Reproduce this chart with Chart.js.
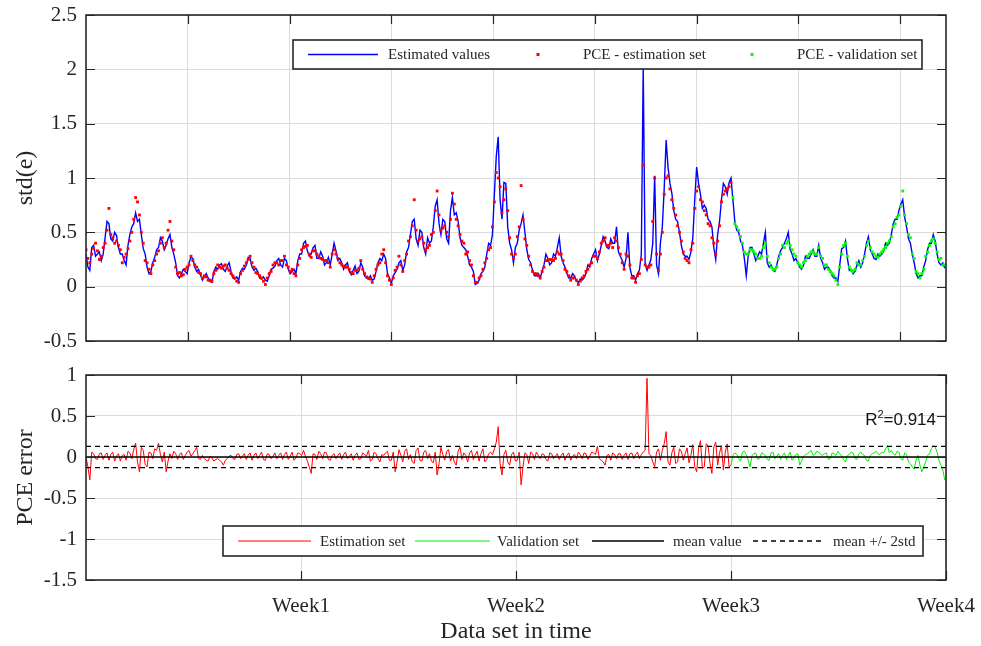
<!DOCTYPE html>
<html>
<head>
<meta charset="utf-8">
<script src="https://cdn.jsdelivr.net/npm/chart.js@4.4.1/dist/chart.umd.min.js"></script>
<style>
  body { margin: 0; background: #fff; }
  #wrap { position: relative; width: 981px; height: 646px; }
  canvas { position: absolute; left: 0; }
</style>
</head>
<body>
<div id="wrap">
  <canvas id="stdChart" width="981" height="360" style="top:0"></canvas>
  <canvas id="errChart" width="981" height="286" style="top:360px"></canvas>
</div>
<script>
Chart.defaults.font.family = "'Liberation Serif', 'Times New Roman', serif";
Chart.defaults.color = "#262626";

// samples are stored every 3 hours (plus half-step arrays), four weeks of 169 h each
const STEP = 3;
const HOURS = 676;
const VAL_START = 507;

// std(e): estimated values (blue line), hours 0..675
const stdEst = [
  0.30,0.15,0.38,0.30,0.24,0.45,0.58,0.42,0.47,0.30,
  0.24,0.38,0.55,0.68,0.62,0.35,0.18,0.14,0.27,0.36,
  0.42,0.38,0.48,0.30,0.10,0.12,0.14,0.22,0.26,0.14,
  0.11,0.09,0.08,0.04,0.18,0.20,0.16,0.19,0.14,0.07,
  0.06,0.17,0.20,0.26,0.15,0.14,0.07,0.06,0.10,0.17,
  0.24,0.20,0.26,0.16,0.14,0.12,0.30,
  0.40,0.33,0.30,0.38,0.26,0.28,0.22,0.20,0.40,0.24,
  0.22,0.20,0.14,0.15,0.12,0.22,0.10,0.07,0.06,0.14,
  0.26,0.30,0.12,0.03,0.13,0.22,0.15,0.32,0.48,0.62,
  0.38,0.50,0.30,0.40,0.55,0.80,0.48,0.60,0.40,0.82,
  0.68,0.45,0.36,0.28,0.18,0.02,0.06,0.14,0.30,0.38,
  0.85,1.38,0.62,0.95,0.40,0.22,
  0.40,0.58,0.50,0.25,0.15,0.10,0.08,0.20,0.26,0.22,
  0.28,0.45,0.22,0.12,0.08,0.10,0.04,0.06,0.12,0.18,
  0.30,0.24,0.38,0.42,0.35,0.40,0.55,0.28,0.18,0.50,
  0.10,0.06,0.15,2.02,0.15,0.25,1.02,0.12,0.55,1.35,
  0.95,0.70,0.60,0.38,0.28,0.25,0.45,1.10,0.85,0.75,
  0.62,0.55,0.25,0.60,0.95,0.85,1.00,
  0.60,0.50,0.38,0.10,0.36,0.30,0.28,0.30,0.50,0.18,
  0.15,0.20,0.33,0.40,0.50,0.30,0.26,0.18,0.20,0.26,
  0.30,0.28,0.38,0.22,0.18,0.15,0.08,0.05,0.35,0.42,
  0.15,0.12,0.20,0.18,0.30,0.46,0.30,0.25,0.28,0.33,
  0.38,0.48,0.62,0.70,0.80,0.55,0.40,0.22,0.08,0.10,
  0.24,0.40,0.48,0.30,0.20,0.17
];

// std(e): estimated values at the half-step hours 1.5..673.5
const stdEstMid = [
  0.18,0.36,0.28,0.32,0.30,0.60,0.44,0.50,0.36,0.30,
  0.20,0.48,0.58,0.60,0.48,0.30,0.12,0.22,0.34,0.45,
  0.34,0.44,0.36,0.22,0.08,0.16,0.12,0.27,0.18,0.16,
  0.06,0.12,0.05,0.14,0.16,0.21,0.14,0.22,0.08,0.09,
  0.14,0.16,0.27,0.18,0.17,0.08,0.09,0.05,0.16,0.19,
  0.26,0.18,0.24,0.12,0.16,0.24,
  0.30,
  0.42,0.28,0.36,0.26,0.32,0.20,0.27,0.30,0.33,0.26,
  0.16,0.22,0.11,0.19,0.14,0.18,0.08,0.10,0.07,0.22,
  0.24,0.26,0.08,0.10,0.16,0.24,0.20,0.36,0.60,0.44,
  0.52,0.36,0.45,0.42,0.74,0.58,0.62,0.44,0.70,0.66,
  0.60,0.38,0.34,0.20,0.14,0.03,0.12,0.18,0.40,0.48,
  1.20,0.80,0.96,0.55,0.34,0.36,
  0.52,0.66,0.34,0.22,0.10,0.12,0.14,0.30,0.20,0.30,
  0.36,0.28,0.18,0.08,0.12,0.05,0.07,0.08,0.20,0.26,
  0.34,0.30,0.46,0.36,0.44,0.40,0.32,0.24,0.26,0.18,
  0.10,0.12,0.30,0.22,0.20,0.40,0.20,0.40,0.90,1.10,
  0.86,0.62,0.50,0.30,0.28,0.32,0.80,0.95,0.72,0.72,
  0.60,0.36,0.48,0.80,0.92,0.96,
  0.80,0.52,0.42,0.26,0.28,0.36,0.24,0.32,0.40,0.22,
  0.20,0.14,0.28,0.36,0.44,0.34,0.24,0.22,0.16,0.28,
  0.26,0.34,0.28,0.26,0.16,0.18,0.10,0.08,0.20,0.36,
  0.26,0.16,0.14,0.24,0.22,0.40,0.34,0.26,0.30,0.30,
  0.40,0.40,0.58,0.62,0.76,0.64,0.44,0.30,0.12,0.10,
  0.18,0.34,0.40,0.42,0.22,0.22
];

// PCE on the estimation set, hours 0..507 (on the hour)
const pceEst = [
  0.34,0.22,0.35,0.33,0.28,0.40,0.72,0.45,0.42,0.34,
  0.27,0.35,0.50,0.82,0.66,0.40,0.22,0.12,0.24,0.33,
  0.45,0.40,0.60,0.34,0.12,0.10,0.16,0.20,0.24,0.18,
  0.12,0.10,0.06,0.05,0.15,0.18,0.19,0.17,0.12,0.08,
  0.04,0.15,0.22,0.28,0.18,0.12,0.08,0.02,0.12,0.20,
  0.22,0.24,0.28,0.18,0.16,0.10,0.26,
  0.36,0.38,0.27,0.33,0.28,0.25,0.24,0.18,0.34,0.26,
  0.20,0.18,0.16,0.12,0.15,0.24,0.12,0.08,0.04,0.16,
  0.22,0.34,0.10,0.02,0.15,0.28,0.14,0.30,0.46,0.80,
  0.42,0.46,0.34,0.38,0.50,0.88,0.52,0.56,0.46,0.86,
  0.62,0.48,0.40,0.32,0.20,0.04,0.08,0.16,0.26,0.36,
  0.78,1.00,0.68,0.90,0.45,0.26,
  0.46,0.93,0.44,0.28,0.14,0.12,0.08,0.18,0.24,0.25,
  0.26,0.30,0.24,0.14,0.06,0.08,0.02,0.08,0.14,0.20,
  0.28,0.26,0.40,0.45,0.38,0.36,0.42,0.30,0.16,0.28,
  0.08,0.04,0.12,1.12,0.18,0.20,1.00,0.15,0.50,1.00,
  0.90,0.72,0.56,0.42,0.26,0.22,0.40,0.88,0.80,0.70,
  0.58,0.45,0.30,0.56,0.85,0.90,0.96
];

// PCE on the estimation set, half-step hours 1.5..505.5
const pceEstMid = [
  0.26,0.30,0.40,0.25,0.36,0.52,0.48,0.40,0.38,0.22,
  0.30,0.42,0.62,0.78,0.50,0.24,0.16,0.20,0.30,0.40,
  0.36,0.52,0.42,0.18,0.13,0.11,0.18,0.28,0.20,0.13,
  0.08,0.09,0.06,0.12,0.20,0.17,0.20,0.15,0.10,0.05,
  0.12,0.19,0.25,0.22,0.13,0.10,0.05,0.08,0.14,0.22,
  0.20,0.24,0.20,0.14,0.12,0.20,
  0.34,
  0.37,0.30,0.33,0.30,0.26,0.24,0.22,0.30,0.30,0.22,
  0.19,0.18,0.13,0.15,0.17,0.16,0.09,0.07,0.10,0.20,
  0.30,0.22,0.06,0.08,0.18,0.20,0.24,0.42,0.56,0.52,
  0.44,0.40,0.36,0.48,0.70,0.66,0.54,0.50,0.62,0.76,
  0.56,0.42,0.30,0.24,0.10,0.04,0.10,0.22,0.34,0.55,
  1.05,0.92,0.80,0.70,0.30,0.30,
  0.55,0.62,0.38,0.20,0.12,0.10,0.14,0.24,0.25,0.24,
  0.32,0.30,0.16,0.10,0.08,0.06,0.05,0.10,0.16,0.22,
  0.28,0.32,0.42,0.38,0.40,0.45,0.36,0.22,0.30,0.20,
  0.08,0.10,0.25,0.20,0.18,0.60,0.30,0.30,0.85,1.02,
  0.80,0.66,0.50,0.32,0.24,0.34,0.72,0.92,0.78,0.66,
  0.56,0.40,0.42,0.78,0.88,0.92
];

// PCE on the validation set, hours 510..675 (on the hour)
const pceVal = [
  0.58,0.52,0.40,0.30,0.34,0.32,0.26,0.28,0.40,0.22,
  0.16,0.18,0.30,0.36,0.42,0.34,0.28,0.20,0.22,0.28,
  0.32,0.30,0.36,0.26,0.20,0.14,0.10,0.02,0.30,0.40,
  0.18,0.14,0.22,0.20,0.28,0.42,0.32,0.28,0.30,0.34,
  0.40,0.46,0.58,0.66,0.88,0.58,0.45,0.26,0.12,0.12,
  0.28,0.38,0.44,0.32,0.26,0.20
];

// PCE on the validation set, half-step hours 508.5..673.5
const pceValMid = [
  0.82,0.55,0.46,0.32,0.30,0.34,0.30,0.26,0.36,0.28,
  0.18,0.16,0.26,0.38,0.40,0.38,0.30,0.22,0.18,0.24,
  0.30,0.32,0.30,0.28,0.20,0.16,0.12,0.06,0.18,0.38,
  0.28,0.15,0.16,0.20,0.24,0.38,0.36,0.30,0.27,0.32,
  0.36,0.42,0.55,0.64,0.74,0.66,0.48,0.30,0.14,0.08,
  0.16,0.32,0.42,0.40,0.25,0.20
];

// PCE error, estimation set, hours 0..507
const errEst = [
  0.00,-0.28,0.04,-0.03,0.05,0.02,-0.04,0.06,0.01,-0.05,
  0.03,0.07,-0.02,0.17,-0.18,0.08,-0.12,0.05,0.10,0.17,
  -0.06,-0.18,0.04,0.07,-0.03,0.05,0.02,0.08,0.04,0.12,
  -0.03,-0.02,-0.05,-0.01,-0.03,-0.04,-0.10,-0.02,0.02,-0.03,
  0.04,0.01,-0.03,0.05,0.02,-0.02,0.06,-0.04,0.03,0.01,
  -0.02,0.05,0.03,-0.03,0.06,-0.01,0.04,0.08,-0.05,-0.20,
  0.03,0.07,-0.02,0.05,-0.04,0.04,0.02,-0.03,0.06,0.01,
  -0.04,0.05,-0.02,0.03,0.08,-0.03,0.04,-0.06,0.02,0.07,
  -0.04,-0.18,0.09,-0.06,0.10,0.03,-0.08,0.11,-0.05,0.08,
  0.04,-0.07,-0.22,0.12,-0.04,0.09,0.02,-0.10,0.12,0.05,
  -0.06,0.08,0.03,-0.05,0.10,-0.03,0.06,0.10,0.37,-0.22,
  0.08,-0.10,0.06,-0.04,-0.34,0.05,-0.08,0.04,0.06,-0.02,
  0.03,-0.05,0.04,0.01,-0.03,0.05,0.02,-0.04,0.03,0.06,
  -0.02,0.04,0.01,0.05,0.13,-0.04,-0.10,0.03,0.05,-0.02,
  0.04,0.02,-0.03,0.05,0.03,-0.02,0.06,0.96,0.02,-0.12,
  0.10,0.08,0.31,-0.10,0.12,-0.06,0.07,0.04,-0.07,0.15,
  -0.18,0.20,-0.12,0.14,-0.20,0.18,0.05,-0.16,0.16,-0.10
];

// PCE error, estimation set, half-step hours 1.5..505.5
const errEstMid = [
  -0.12,0.06,-0.02,0.04,-0.03,0.05,0.03,-0.05,0.04,0.02,
  -0.04,0.05,0.09,-0.06,0.12,-0.09,0.06,-0.02,0.08,0.03,
  0.06,-0.05,-0.02,0.04,0.03,-0.03,0.06,0.01,0.08,-0.02,
  0.02,-0.04,0.01,-0.05,-0.02,-0.06,-0.04,0.01,-0.02,0.03,
  -0.02,0.04,0.02,-0.04,0.05,0.02,-0.03,0.04,-0.02,0.05,
  0.02,-0.03,0.06,0.01,-0.04,0.05,0.02,0.01,-0.12,0.04,
  -0.03,0.04,0.06,-0.03,0.02,-0.02,0.05,0.03,-0.02,0.04,
  0.02,-0.03,0.05,0.01,-0.05,0.06,-0.02,0.03,0.05,-0.04,
  0.06,-0.06,0.02,0.07,-0.03,-0.06,0.08,-0.04,0.06,-0.02,
  -0.05,0.06,-0.08,0.03,0.07,-0.05,-0.06,0.07,-0.03,0.02,
  0.05,-0.03,0.07,0.04,-0.06,0.04,0.03,0.18,-0.08,0.03,
  -0.06,0.03,-0.05,0.06,-0.12,0.03,0.06,-0.03,0.02,0.04,
  -0.03,0.05,-0.02,0.04,0.02,-0.04,0.05,0.01,-0.02,0.03,
  0.05,-0.03,0.06,0.03,-0.02,-0.06,0.02,-0.04,0.03,0.04,
  -0.03,0.05,0.04,-0.02,0.06,0.03,0.08,0.04,-0.06,0.06,
  -0.04,0.16,-0.06,0.05,-0.08,0.10,-0.04,0.11,0.02,-0.12,
  0.10,-0.14,0.16,-0.08,0.12,-0.10,0.14,0.06,-0.12
];

// PCE error, validation set, hours 507..675
const errVal = [
  -0.10,0.05,-0.02,0.06,0.03,-0.12,0.04,-0.03,0.05,0.02,
  -0.04,0.06,0.01,-0.03,0.05,0.02,-0.04,0.03,-0.10,0.01,
  0.04,0.08,0.03,0.06,0.02,0.05,-0.02,0.04,0.07,0.01,
  -0.06,0.03,0.05,-0.03,0.06,0.02,-0.05,0.04,0.07,0.03,
  0.05,0.14,0.08,0.02,0.06,-0.04,0.03,-0.08,-0.15,0.02,
  -0.18,-0.06,0.04,0.14,0.06,-0.10,-0.28
];

// PCE error, validation set, half-step hours 508.5..673.5
const errValMid = [
  0.02,0.03,-0.05,0.07,-0.04,0.02,0.05,-0.02,0.04,-0.03,
  0.05,-0.02,0.04,0.02,-0.03,0.06,-0.01,0.04,-0.05,0.03,
  0.06,0.02,0.07,0.03,0.04,-0.03,0.05,0.02,0.04,-0.03,
  0.02,0.06,-0.02,0.04,0.03,-0.04,0.02,0.05,0.04,0.06,
  0.10,0.05,0.04,0.07,-0.02,0.05,-0.06,-0.12,-0.04,-0.10,
  -0.12,0.02,0.10,0.12,-0.04,-0.16
];

const errMean = 0;
const errTwoStd = 0.13;
const rSquared = 0.914;

const topXTicks = [80, 160, 240, 320, 400, 480, 560, 640];
const stdTicks = [-0.5, 0, 0.5, 1, 1.5, 2, 2.5];
const errTicks = [-1.5, -1, -0.5, 0, 0.5, 1];
const weekTicks = [169, 338, 507, 676];
const weekLabels = ["Week1", "Week2", "Week3", "Week4"];

const toPoints = (arr, start) => arr.map((v, i) => ({ x: start + i * STEP, y: v }));
// on-the-hour and half-step samples merged into one time-ordered series
const merged = (a, aStart, b, bStart) =>
  toPoints(a, aStart).concat(toPoints(b, bStart)).sort((p, q) => p.x - q.x);

// box, inward tick marks, legend and the R^2 note
const matFrame = {
  id: "matFrame",
  afterDatasetsDraw(chart, args, opts) {
    const { ctx, chartArea: a, scales } = chart;
    const ink = "#262626";
    ctx.save();

    ctx.strokeStyle = ink;
    ctx.lineWidth = 1.2;
    ctx.beginPath();
    scales.x.ticks.forEach(t => {
      const px = Math.round(scales.x.getPixelForValue(t.value)) + 0.5;
      ctx.moveTo(px, a.top); ctx.lineTo(px, a.top + 9);
      ctx.moveTo(px, a.bottom); ctx.lineTo(px, a.bottom - 9);
    });
    scales.y.ticks.forEach(t => {
      const py = Math.round(scales.y.getPixelForValue(t.value)) + 0.5;
      ctx.moveTo(a.left, py); ctx.lineTo(a.left + 9, py);
      ctx.moveTo(a.right, py); ctx.lineTo(a.right - 9, py);
    });
    ctx.stroke();
    ctx.lineWidth = 1.6;
    ctx.strokeRect(a.left, a.top, a.right - a.left, a.bottom - a.top);

    // legend
    const lg = opts.legend;
    const bx = a.right - lg.right - lg.width;
    const by = lg.top != null ? a.top + lg.top : a.bottom - lg.bottom - lg.height;
    const cy = by + lg.height / 2;
    ctx.fillStyle = "#fff";
    ctx.fillRect(bx, by, lg.width, lg.height);
    ctx.strokeRect(bx, by, lg.width, lg.height);
    ctx.font = "15px 'Liberation Serif'";
    ctx.textBaseline = "middle";
    lg.slots.forEach(s => {
      const ds = chart.data.datasets[s.ds];
      if (ds.showLine) {
        ctx.strokeStyle = ds.borderColor;
        ctx.lineWidth = ds.borderWidth;
        ctx.setLineDash(ds.borderDash || []);
        ctx.beginPath();
        ctx.moveTo(bx + s.from, cy);
        ctx.lineTo(bx + s.to, cy);
        ctx.stroke();
        ctx.setLineDash([]);
      } else {
        ctx.fillStyle = ds.backgroundColor;
        ctx.fillRect(bx + (s.from + s.to) / 2 - 1.5, cy - 1.5, 3, 3);
      }
      ctx.fillStyle = ink;
      ctx.fillText(ds.label, bx + s.text, cy + 1);
    });

    // R^2 annotation
    if (opts.note) {
      const tail = "=" + opts.note.toFixed(3);
      ctx.fillStyle = "#111";
      ctx.textBaseline = "alphabetic";
      ctx.font = "17px 'Liberation Sans'";
      const wTail = ctx.measureText(tail).width;
      const wR = ctx.measureText("R").width;
      ctx.font = "11px 'Liberation Sans'";
      const wSup = ctx.measureText("2").width;
      const xEnd = a.right - 10;
      const base = scales.y.getPixelForValue(0.5) + 9;
      ctx.fillText("2", xEnd - wTail - wSup, base - 7);
      ctx.font = "17px 'Liberation Sans'";
      ctx.fillText(tail, xEnd - wTail, base);
      ctx.fillText("R", xEnd - wTail - wSup - wR, base);
    }
    ctx.restore();
  }
};

const gridColor = "#dcdcdc";
const tickFont = { size: 21 };
const titleFont = { size: 24 };

// keep the plot boxes exactly where the layout padding puts them
const fixX = h => s => { s.height = h; s.paddingLeft = 0; s.paddingRight = 0; };
const fixY = s => { s.width = 86; s.paddingTop = 0; s.paddingBottom = 0; };

// Top panel: std(e)
new Chart(document.getElementById("stdChart"), {
  type: "scatter",
  data: {
    datasets: [
      {
        label: "Estimated values",
        data: merged(stdEst, 0, stdEstMid, 1.5),
        showLine: true,
        borderColor: "#0000ff",
        borderWidth: 1.4,
        pointRadius: 0,
        order: 3
      },
      {
        label: "PCE - estimation set",
        data: toPoints(pceEst, 0).concat(toPoints(pceEstMid, 1.5)),
        showLine: false,
        pointStyle: "rect",
        pointRadius: 2,
        borderWidth: 0,
        backgroundColor: "#ff0000",
        order: 1
      },
      {
        label: "PCE - validation set",
        data: toPoints(pceVal, VAL_START + STEP).concat(toPoints(pceValMid, VAL_START + 1.5)),
        showLine: false,
        pointStyle: "rect",
        pointRadius: 2,
        borderWidth: 0,
        backgroundColor: "#00ff00",
        order: 1
      }
    ]
  },
  options: {
    responsive: false,
    animation: false,
    events: [],
    layout: { padding: { left: 0, right: 35, top: 15, bottom: 19 } },
    scales: {
      x: {
        type: "linear",
        min: 0,
        max: HOURS,
        afterBuildTicks: s => { s.ticks = topXTicks.map(v => ({ value: v })); },
        afterFit: fixX(0),
        ticks: { display: false },
        grid: { color: gridColor, drawTicks: false },
        border: { display: false }
      },
      y: {
        min: -0.5,
        max: 2.5,
        afterBuildTicks: s => { s.ticks = stdTicks.map(v => ({ value: v })); },
        afterFit: fixY,
        ticks: { font: tickFont, padding: 9, callback: v => String(v) },
        grid: { color: gridColor, drawTicks: false },
        border: { display: false },
        title: { display: true, text: "std(e)", font: titleFont, padding: { top: 11, bottom: 0 } }
      }
    },
    plugins: {
      legend: { display: false },
      tooltip: { enabled: false },
      matFrame: {
        legend: {
          right: 24, top: 25, width: 629, height: 29,
          slots: [
            { ds: 0, from: 15, to: 85, text: 95 },
            { ds: 1, from: 245, to: 245, text: 290 },
            { ds: 2, from: 459, to: 459, text: 504 }
          ]
        }
      }
    }
  },
  plugins: [matFrame]
});

// Bottom panel: PCE error with mean and +/- 2 std band
const bandLine = (y, label) => ({
  label: label,
  data: [{ x: 0, y: y }, { x: HOURS, y: y }],
  showLine: true,
  borderColor: "#000",
  borderWidth: 1.3,
  borderDash: [5, 4],
  pointRadius: 0,
  order: 0
});

new Chart(document.getElementById("errChart"), {
  type: "scatter",
  data: {
    datasets: [
      {
        label: "Estimation set",
        data: merged(errEst, 0, errEstMid, 1.5),
        showLine: true,
        borderColor: "#ff0000",
        borderWidth: 1,
        pointRadius: 0,
        order: 2
      },
      {
        label: "Validation set",
        data: merged(errVal, VAL_START, errValMid, VAL_START + 1.5),
        showLine: true,
        borderColor: "#00ee00",
        borderWidth: 1,
        pointRadius: 0,
        order: 2
      },
      {
        label: "mean value",
        data: [{ x: 0, y: errMean }, { x: HOURS, y: errMean }],
        showLine: true,
        borderColor: "#000",
        borderWidth: 1.5,
        pointRadius: 0,
        order: 0
      },
      bandLine(errMean + errTwoStd, "mean +/- 2std"),
      bandLine(errMean - errTwoStd, "mean +/- 2std")
    ]
  },
  options: {
    responsive: false,
    animation: false,
    events: [],
    layout: { padding: { left: 0, right: 35, top: 15, bottom: 0 } },
    scales: {
      x: {
        type: "linear",
        min: 0,
        max: HOURS,
        afterBuildTicks: s => { s.ticks = weekTicks.map(v => ({ value: v })); },
        afterFit: fixX(66),
        ticks: {
          font: tickFont,
          padding: 14,
          maxRotation: 0,
          callback: v => weekLabels[weekTicks.indexOf(v)]
        },
        grid: { color: gridColor, drawTicks: false },
        border: { display: false },
        title: { display: true, text: "Data set in time", font: titleFont, padding: { top: 0, bottom: 0 } }
      },
      y: {
        min: -1.5,
        max: 1,
        afterBuildTicks: s => { s.ticks = errTicks.map(v => ({ value: v })); },
        afterFit: fixY,
        ticks: { font: tickFont, padding: 9, callback: v => String(v) },
        grid: { color: gridColor, drawTicks: false },
        border: { display: false },
        title: { display: true, text: "PCE error", font: titleFont, padding: { top: 11, bottom: 0 } }
      }
    },
    plugins: {
      legend: { display: false },
      tooltip: { enabled: false },
      matFrame: {
        note: rSquared,
        legend: {
          right: 23, bottom: 24, width: 700, height: 30,
          slots: [
            { ds: 0, from: 15, to: 88, text: 97 },
            { ds: 1, from: 192, to: 267, text: 274 },
            { ds: 2, from: 369, to: 441, text: 450 },
            { ds: 3, from: 530, to: 601, text: 610 }
          ]
        }
      }
    }
  },
  plugins: [matFrame]
});
</script>
</body>
</html>
